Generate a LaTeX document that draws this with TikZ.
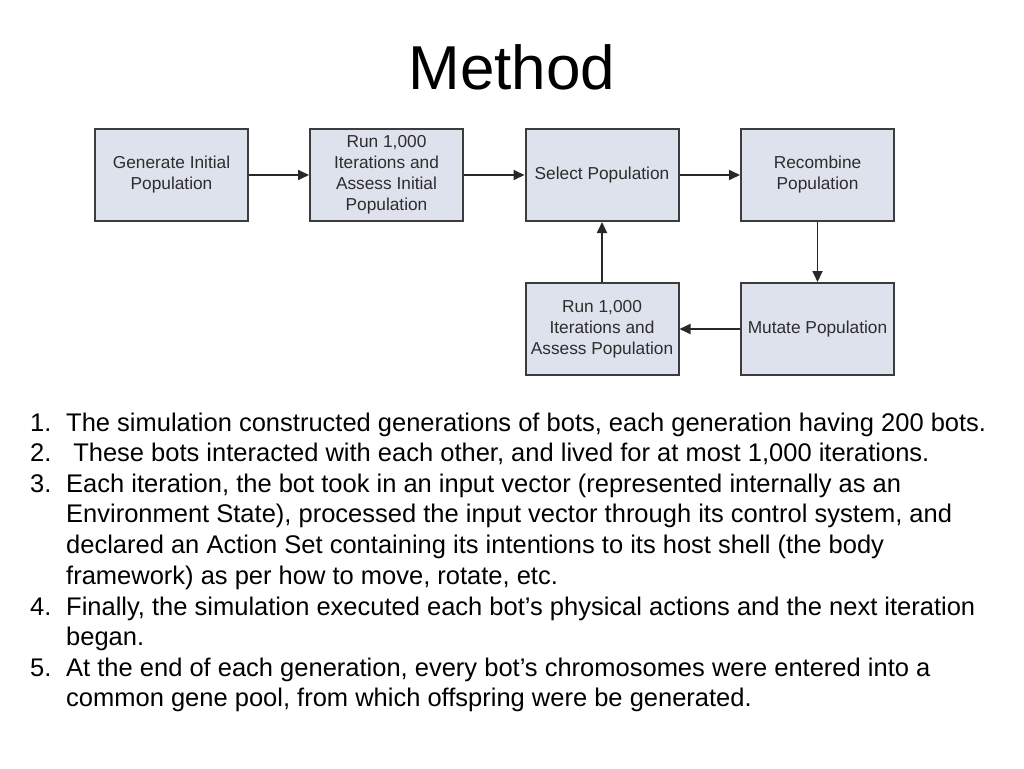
\documentclass[tikz,border=0pt]{standalone}
\usepackage{fontspec}
\setmainfont{Liberation Sans}
\usetikzlibrary{arrows.meta}
\definecolor{boxfill}{RGB}{221,226,237}
\definecolor{boxline}{RGB}{60,60,60}
\definecolor{boxtext}{RGB}{45,45,45}
\definecolor{arrowc}{RGB}{40,40,40}
\newcommand{\up}[1]{\raisebox{2pt}{#1}}
\begin{document}
\begin{tikzpicture}[x=1pt,y=-1pt,
 box/.style={draw=boxline, fill=boxfill, line width=2pt, minimum width=153pt, minimum height=92pt, inner sep=0pt, align=center, text=boxtext, font=\fontsize{17.3}{21}\selectfont},
 conn/.style={draw=arrowc, line width=1.8pt, -{Triangle[length=11pt,width=10pt]}},
 item/.style={anchor=base west, inner sep=0pt, font=\fontsize{25.5}{30}\selectfont}]
\useasboundingbox[fill=white] (0,0) rectangle (1024,768);
\node[anchor=base, inner sep=0pt, font=\fontsize{62}{70}\selectfont] (title) at (512,89) {Method};

\node[box] (gen) at (171.5,175) {Generate Initial\\Population};
\node[box] (run1) at (386.5,175) {Run 1,000\\Iterations and\\Assess Initial\\Population};
\node[box] (sel) at (602,175) {\up{Select Population}};
\node[box] (rec) at (817.5,175) {\up{Recombine}\\\up{Population}};
\node[box] (run2) at (602,329) {Run 1,000\\Iterations and\\Assess Population};
\node[box] (mut) at (817.5,329) {Mutate Population};

\draw[conn] (gen) -- (run1);
\draw[conn] (run1) -- (sel);
\draw[conn] (sel) -- (rec);
\draw[conn] (rec) -- (mut);
\draw[conn] (mut) -- (run2);
\draw[conn] (run2) -- (sel);

\node[item] (n1) at (30,431) {1.};
\node[item] (t1) at (66,431) {The simulation constructed generations of bots, each generation having 200 bots.};
\node[item] (n2) at (30,461) {2.};
\node[item] (t2) at (66,461) {\ These bots interacted with each other, and lived for at most 1,000 iterations.};
\node[item] (n3) at (30,492) {3.};
\node[item] (t3a) at (66,492) {Each iteration, the bot took in an input vector (represented internally as an};
\node[item] (t3b) at (66,522) {Environment State), processed the input vector through its control system, and};
\node[item] (t3c) at (66,553) {declared an Action Set containing its intentions to its host shell (the body};
\node[item] (t3d) at (66,584) {framework) as per how to move, rotate, etc.};
\node[item] (n4) at (30,615) {4.};
\node[item] (t4a) at (66,615) {Finally, the simulation executed each bot’s physical actions and the next iteration};
\node[item] (t4b) at (66,645) {began.};
\node[item] (n5) at (30,676) {5.};
\node[item] (t5a) at (66,676) {At the end of each generation, every bot’s chromosomes were entered into a};
\node[item] (t5b) at (66,706) {common gene pool, from which offspring were be generated.};
\end{tikzpicture}
\end{document}
